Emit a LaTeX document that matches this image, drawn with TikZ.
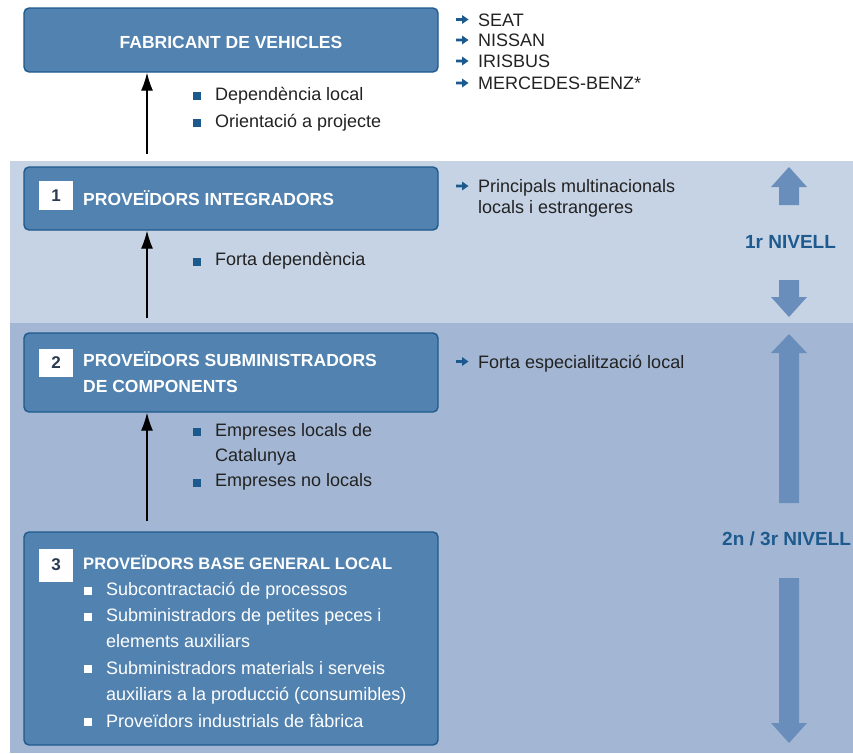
\documentclass[tikz,border=0pt]{standalone}
\usepackage{fontspec}
\setmainfont{Liberation Sans}
\usetikzlibrary{arrows.meta}
\definecolor{boxfill}{HTML}{5282AF}
\definecolor{boxline}{HTML}{1E5A8C}
\definecolor{bandlight}{HTML}{C6D3E5}
\definecolor{banddark}{HTML}{A3B7D4}
\definecolor{blk}{HTML}{6A8EBC}
\definecolor{bulcol}{HTML}{1C5A8E}
\definecolor{lvlcol}{HTML}{1E5A8E}
\definecolor{textcol}{HTML}{222222}
\definecolor{numcol}{HTML}{2A3A50}
\newcommand\myrarrow[1]{\fill[bulcol] (456,#1-1.4) -- (462,#1-1.4) -- (462,#1-4.5) -- (468.5,#1) -- (462,#1+4.5) -- (462,#1+1.4) -- (456,#1+1.4) -- cycle;}
\newcommand\mybullet[2]{\fill[#1] (#2) ++(0,-8.5) rectangle ++(8,8);}
\begin{document}
\begin{tikzpicture}[x=1pt,y=-1pt,
  box/.style={draw=boxline, fill=boxfill, line width=1.4pt, rounded corners=5pt, inner sep=0pt, minimum width=414pt},
  numsq/.style={fill=white, inner sep=0pt, minimum width=34pt, font=\fontsize{17}{20}\selectfont\bfseries, text=numcol},
  txt/.style={anchor=base west, inner sep=0pt, font=\fontsize{18}{21}\selectfont, text=textcol},
  wtxt/.style={anchor=base west, inner sep=0pt, font=\fontsize{18}{21}\selectfont, text=white},
  title/.style={anchor=base west, inner sep=0pt, font=\fontsize{17.5}{21}\selectfont\bfseries, text=white},
  lvl/.style={anchor=base, inner sep=0pt, font=\fontsize{19}{22}\selectfont\bfseries, text=lvlcol},
  conn/.style={-{Latex[length=18pt,width=12pt]}, line width=1.2pt, black}]
\useasboundingbox (0,0) rectangle (853,753);
\clip (0,0) rectangle (853,753);
% bands
\fill[bandlight] (10,161) rectangle (853,323);
\fill[banddark] (10,323) rectangle (853,753);
% boxes
\node[box, minimum height=64pt] (fab) at (231,40) {};
\node[font=\fontsize{17.5}{21}\selectfont\bfseries, text=white, inner sep=0pt] (fabt) at (231,42.5) {FABRICANT DE VEHICLES};
\node[box, minimum height=63pt] (b1) at (231,198.5) {};
\node[box, minimum height=79pt] (b2) at (231,372.5) {};
\node[box, minimum height=213pt] (b3) at (231,638.5) {};
% number squares
\node[numsq, minimum height=29pt] (n1) at (56,195.5) {1};
\node[numsq, minimum height=28pt] (n2) at (56,363) {2};
\node[numsq, minimum height=33pt] (n3) at (56,565) {3};
% titles
\node[title] (t1) at (83,205.5) {PROVEÏDORS INTEGRADORS};
\node[title] (t2a) at (83,366.7) {PROVEÏDORS SUBMINISTRADORS};
\node[title] (t2b) at (83,392.7) {DE COMPONENTS};
\node[title, font=\fontsize{16.6}{21}\selectfont\bfseries] (t3) at (83,569.3) {PROVEÏDORS BASE GENERAL LOCAL};
% box 3 bullets
\node[wtxt] (w1) at (106,595.5) {Subcontractació de processos};
\node[wtxt] (w2) at (106,621.5) {Subministradors de petites peces i};
\node[wtxt] (w3) at (106,647.5) {elements auxiliars};
\node[wtxt] (w4) at (106,674) {Subministradors materials i serveis};
\node[wtxt] (w5) at (106,700) {auxiliars a la producció (consumibles)};
\node[wtxt] (w6) at (106,727) {Proveïdors industrials de fàbrica};
\mybullet{white}{83.5,595}
\mybullet{white}{83.5,621}
\mybullet{white}{83.5,673.5}
\mybullet{white}{83.5,726.5}
% connectors
\coordinate (s1) at (147,154);
\coordinate (s2) at (147,318);
\coordinate (s3) at (147,521);
\draw[conn] (s1) -- (s1 |- fab.south);
\draw[conn] (s2) -- (s2 |- b1.south);
\draw[conn] (s3) -- (s3 |- b2.south);
% middle bullets
\node[txt] (m1) at (215,100) {Dependència local};
\node[txt] (m2) at (215,127) {Orientació a projecte};
\node[txt] (m3) at (215,265.5) {Forta dependència};
\node[txt] (m4) at (215,436) {Empreses locals de};
\node[txt] (m5) at (215,461) {Catalunya};
\node[txt] (m6) at (215,486.5) {Empreses no locals};
\mybullet{bulcol}{193,100.5}
\mybullet{bulcol}{193,127.5}
\mybullet{bulcol}{193,266}
\mybullet{bulcol}{193,436.5}
\mybullet{bulcol}{193,487}
% right texts
\node[txt] (r1) at (478,26) {SEAT};
\node[txt] (r2) at (478,46.5) {NISSAN};
\node[txt] (r3) at (478,67.5) {IRISBUS};
\node[txt] (r4) at (478,89.5) {MERCEDES-BENZ*};
\myrarrow{19.5}
\myrarrow{40}
\myrarrow{61}
\myrarrow{83}
\node[txt] (r5) at (478,192.3) {Principals multinacionals};
\node[txt] (r6) at (478,213.5) {locals i estrangeres};
\myrarrow{186}
\node[txt] (r7) at (478,368) {Forta especialització local};
\myrarrow{361.5}
% level arrows
\fill[blk] (789,167) -- (807,187) -- (799,187) -- (799,205) -- (779,205) -- (779,187) -- (771,187) -- cycle;
\fill[blk] (779,280) -- (799,280) -- (799,297) -- (807,297) -- (789,317) -- (771,297) -- (779,297) -- cycle;
\fill[blk] (789,334) -- (807,353) -- (799,353) -- (799,503) -- (779,503) -- (779,353) -- (771,353) -- cycle;
\fill[blk] (779,578) -- (799,578) -- (799,723) -- (807,723) -- (789,743) -- (771,723) -- (779,723) -- cycle;
\node[lvl] (l1) at (790.5,248.3) {1r NIVELL};
\node[lvl, anchor=base west] (l2) at (722,545) {2n / 3r NIVELL};
\end{tikzpicture}
\end{document}
